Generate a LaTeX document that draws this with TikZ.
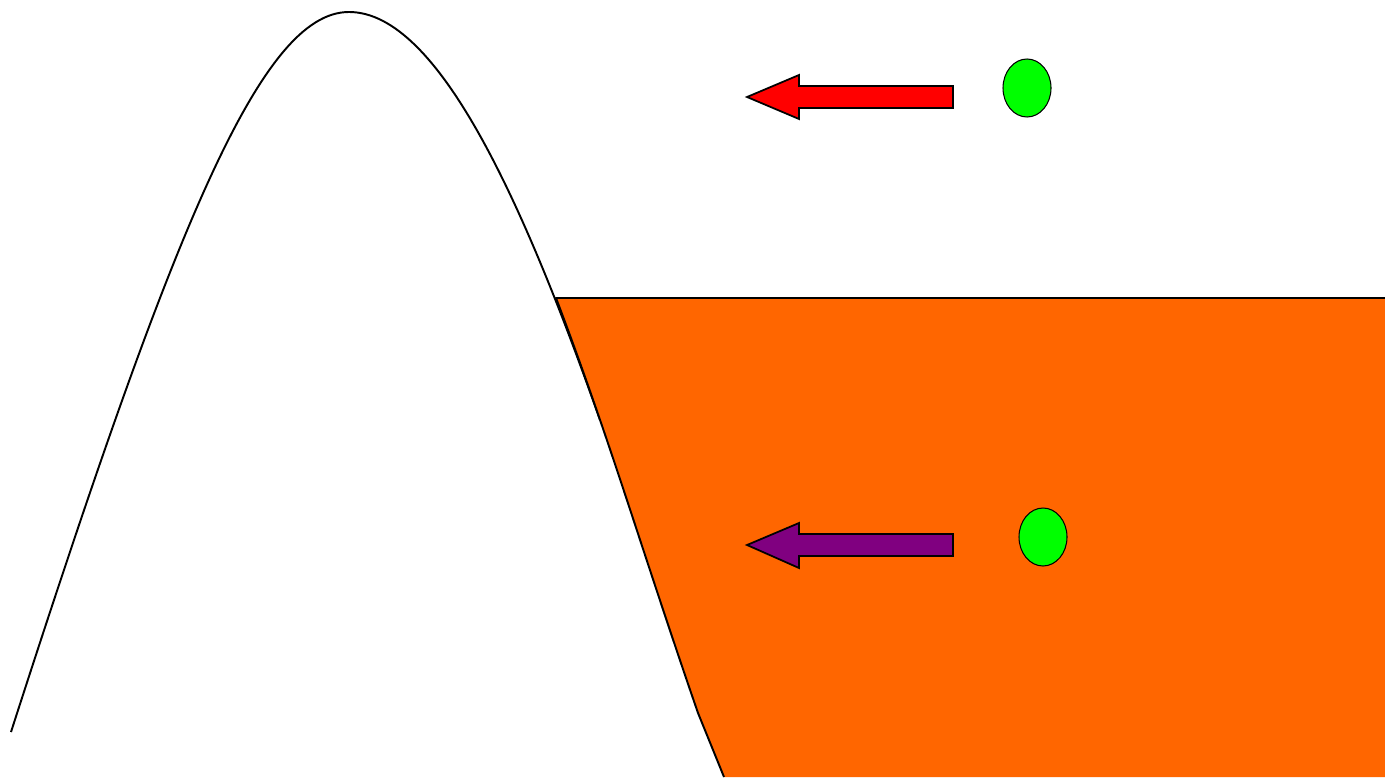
\documentclass[tikz,border=0pt]{standalone}
\usepackage{xcolor}
\usepackage{tikz}
\definecolor{lava}{HTML}{FF6600}
\definecolor{ball}{HTML}{00FF00}
\definecolor{plum}{HTML}{800080}

\begin{document}
\begin{tikzpicture}[x=0.02cm,y=-0.02cm,
  hill/.style={draw,line width=1.1pt,line join=round},
  push/.style={draw,line width=1pt,line join=miter},
  dot/.style={draw,line width=0.6pt,fill=ball}
]
\useasboundingbox (0,0) rectangle (1385,777);
\draw[hill] (11,732) .. controls (172,232) and (260,12) .. (349,12)
  .. controls (440,12) and (526,210) .. (600,420);
\fill[lava] (556,298) -- (1385,298) -- (1385,777) -- (724,777) -- (698,713)
  .. controls (640,545) and (610,440) .. (556,298) -- cycle;
\draw[hill] (1385,298) -- (556,298)
  .. controls (610,440) and (640,545) .. (698,713) -- (724,777);
\draw[push,fill=red] (953,86) -- (799,86) -- (799,75) -- (747,97) -- (799,119) -- (799,108) -- (953,108) -- cycle;
\draw[dot] (1027,88) ellipse [x radius=24,y radius=29];
\draw[push,fill=plum] (953,534) -- (799,534) -- (799,523) -- (747,545) -- (799,568) -- (799,556) -- (953,556) -- cycle;
\draw[dot] (1043,537) ellipse [x radius=24,y radius=29];
\end{tikzpicture}
\end{document}
